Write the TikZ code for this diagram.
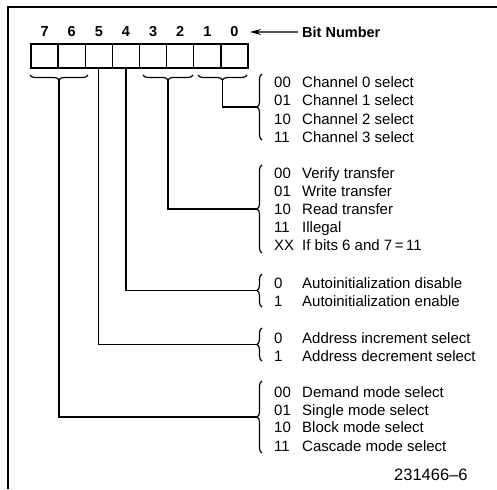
\documentclass[tikz,border=0pt]{standalone}
\usepackage{fontspec}
\setmainfont{Liberation Sans}
\usetikzlibrary{decorations.pathreplacing,arrows.meta}
\begin{document}
\begin{tikzpicture}[x=1pt,y=-1pt,
  cell/.style={draw,line width=1.4pt,minimum width=27.125pt,minimum height=24pt,inner sep=0pt,outer sep=0pt},
  bitno/.style={font=\fontsize{14.5}{17}\selectfont\bfseries,anchor=base,inner sep=0pt},
  code/.style={font=\fontsize{15}{18}\selectfont,anchor=base west,inner sep=0pt},
  desc/.style={font=\fontsize{15}{18}\selectfont,anchor=base west,inner sep=0pt},
  lbrace/.style={decorate,decoration={brace,amplitude=5pt},line width=1.2pt},
  conn/.style={line width=1.2pt},
  frameline/.style={line width=1.6pt}]
\useasboundingbox (0,0) rectangle (497,489);
% frame
\coordinate (fl) at (8,489);
\coordinate (fc) at (8,7);
\coordinate (fr) at (498,7);
\draw[frameline] (fl) -- (fc) -- (fr);
% register cells
\foreach \i [count=\k from 0] in {7,6,5,4,3,2,1,0} {
  \node[cell] (c\i) at ({44.56+27.125*\k},56) {};
  \node[bitno] (n\i) at ({44.56+27.125*\k},37) {\i};
}
% bit number label
\node[font=\fontsize{14.5}{17}\selectfont\bfseries,anchor=base west,inner sep=0pt] (bn) at (302,37.2) {Bit Number};
\coordinate (bnarrow) at (250,32);
\draw[line width=1.3pt,-{Stealth[length=11pt,width=6pt]}] (bn.west) ++(-4,0) coordinate (bnstart) -- (bnarrow);
% braces under bits
\draw[lbrace] (88,75) -- (30,75);
\draw[lbrace] (193,75) -- (143,75);
\draw[lbrace] (247,75) -- (198,75);
\coordinate (t76) at (59,80);
\coordinate (t32) at (168,80);
\coordinate (t10) at (222.5,80);
% right braces and tips
\draw[lbrace] (262,140) -- (262,74);
\coordinate (r10) at (257,107);
\draw[lbrace] (262,253) -- (262,165);
\coordinate (r32) at (257,209);
\draw[lbrace] (262,307) -- (262,274);
\coordinate (r4) at (257,290.5);
\draw[lbrace] (262,361) -- (262,328);
\coordinate (r5) at (257,344.5);
\draw[lbrace] (262,453) -- (262,381);
\coordinate (r76) at (257,417);
% connectors
\draw[conn] (t10) |- (r10);
\draw[conn] (t32) |- (r32);
\draw[conn] (c4.south) |- (r4);
\draw[conn] (c5.south) |- (r5);
\draw[conn] (t76) |- (r76);
% texts
\node[code] (a0) at (274,87.5) {00};
\node[desc] (a0d) at (302,87.5) {Channel 0 select};
\node[code] (a1) at (274,105.8) {01};
\node[desc] (a1d) at (302,105.8) {Channel 1 select};
\node[code] (a2) at (274,124.1) {10};
\node[desc] (a2d) at (302,124.1) {Channel 2 select};
\node[code] (a3) at (274,142.4) {11};
\node[desc] (a3d) at (302,142.4) {Channel 3 select};
\node[code] (b0) at (274,178.5) {00};
\node[desc] (b0d) at (302,178.5) {Verify transfer};
\node[code] (b1) at (274,196.5) {01};
\node[desc] (b1d) at (302,196.5) {Write transfer};
\node[code] (b2) at (274,214.5) {10};
\node[desc] (b2d) at (302,214.5) {Read transfer};
\node[code] (b3) at (274,232.5) {11};
\node[desc] (b3d) at (302,232.5) {Illegal};
\node[code] (b4) at (274,250.5) {XX};
\node[desc] (b4d) at (302,250.5) {If bits 6 and 7\,=\,11};
\node[code] (d0) at (274,288.5) {0};
\node[desc] (d0d) at (302,288.5) {Autoinitialization disable};
\node[code] (d1) at (274,306.5) {1};
\node[desc] (d1d) at (302,306.5) {Autoinitialization enable};
\node[code] (e0) at (274,343.5) {0};
\node[desc] (e0d) at (302,343.5) {Address increment select};
\node[code] (e1) at (274,361.5) {1};
\node[desc] (e1d) at (302,361.5) {Address decrement select};
\node[code] (f0) at (274,397.5) {00};
\node[desc] (f0d) at (302,397.5) {Demand mode select};
\node[code] (f1) at (274,415) {01};
\node[desc] (f1d) at (302,415) {Single mode select};
\node[code] (f2) at (274,432.5) {10};
\node[desc] (f2d) at (302,432.5) {Block mode select};
\node[code] (f3) at (274,451) {11};
\node[desc] (f3d) at (302,451) {Cascade mode select};
\node[font=\fontsize{16.5}{19}\selectfont,anchor=base west,inner sep=0pt] (fig) at (394,480) {231466--6};
\end{tikzpicture}
\end{document}
